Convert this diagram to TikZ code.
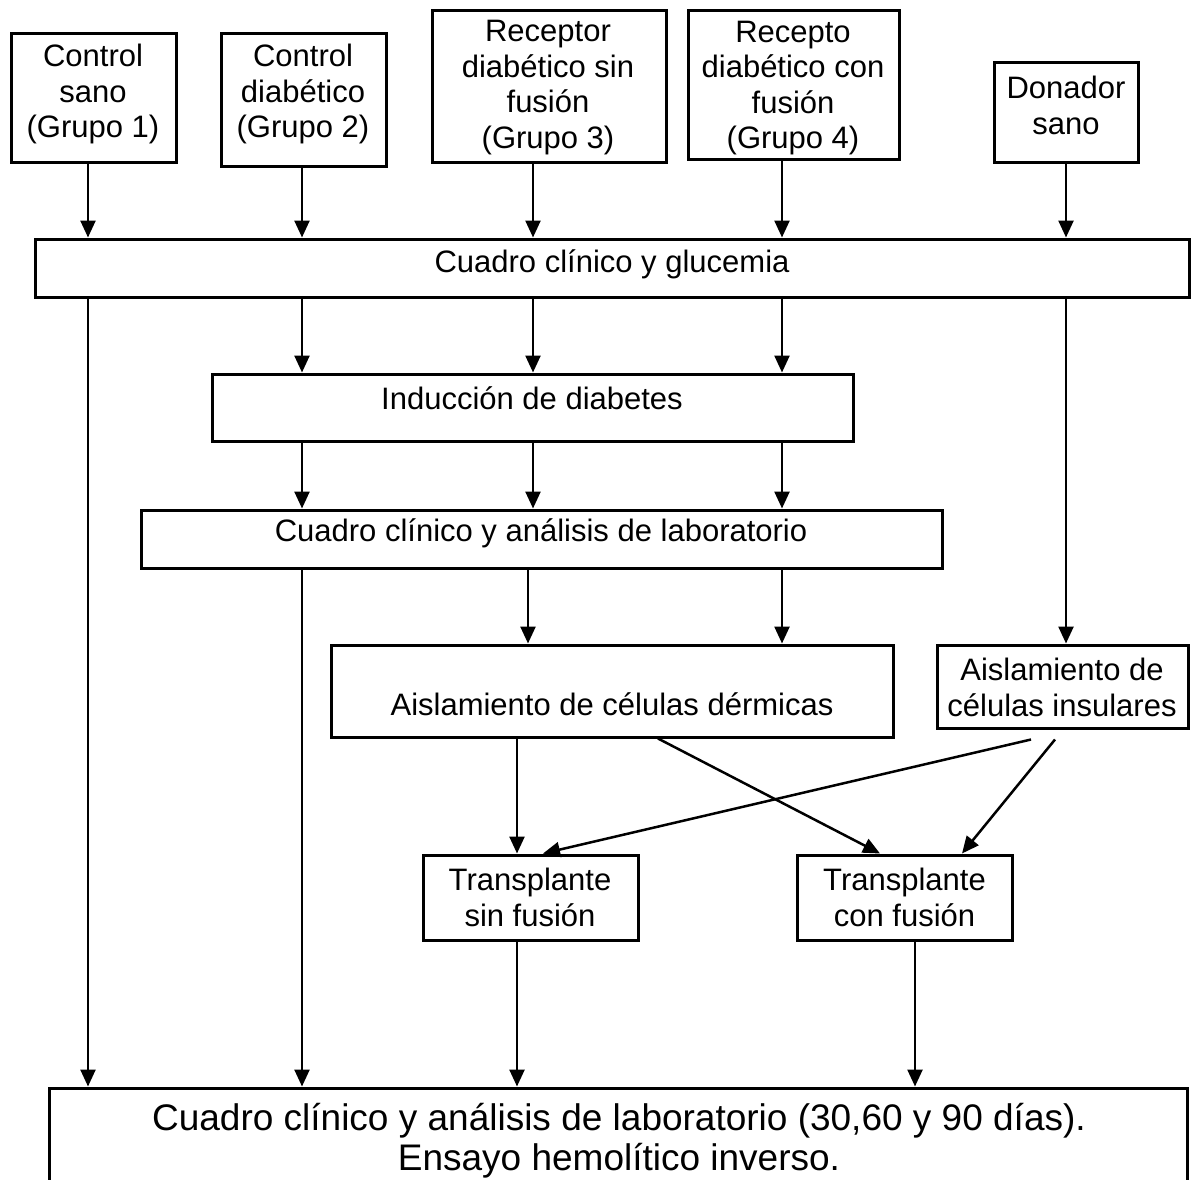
\documentclass[tikz,border=0pt]{standalone}
\usepackage{fontspec}
\setmainfont{Liberation Sans}
\usetikzlibrary{arrows.meta,calc}
\begin{document}
\begin{tikzpicture}[x=1pt,y=-1pt,
  box/.style={draw, line width=3pt, inner sep=0pt},
  lbl/.style={font=\fontsize{31}{35.5}\selectfont, align=center, inner sep=0pt},
  biglbl/.style={font=\fontsize{37}{40}\selectfont, align=center, inner sep=0pt},
  arr/.style={line width=2.5pt, -{Triangle[length=17pt,width=15pt]}}]
\useasboundingbox (0,0) rectangle (1191,1180);
\clip (0,0) rectangle (1191,1180);
\fill[white] (0,0) rectangle (1191,1180);

% boxes
\node[box, minimum width=165pt, minimum height=128pt] (g1) at (93.5,98) {};
\node[box, minimum width=165pt, minimum height=132pt] (g2) at (303.5,100) {};
\node[box, minimum width=234pt, minimum height=151pt] (g3) at (549,86.5) {};
\node[box, minimum width=211pt, minimum height=148pt] (g4) at (793.5,85) {};
\node[box, minimum width=144pt, minimum height=99pt] (don) at (1066,112.5) {};
\node[box, minimum width=1154pt, minimum height=58pt] (gluc) at (612,268) {};
\node[box, minimum width=641pt, minimum height=67pt] (ind) at (532.5,407.5) {};
\node[box, minimum width=801pt, minimum height=58pt] (ana) at (541.5,539) {};
\node[box, minimum width=562pt, minimum height=92pt] (derm) at (612,691) {};
\node[box, minimum width=251pt, minimum height=83pt] (ins) at (1062.5,686.5) {};
\node[box, minimum width=215pt, minimum height=85pt] (tsf) at (530.5,897.5) {};
\node[box, minimum width=215pt, minimum height=85pt] (tcf) at (904.5,897.5) {};
\node[box, minimum width=1138pt, minimum height=112pt] (fin) at (618,1144) {};

% texts
\node[lbl] (g1t) at (93,94) {Control\\sano\\(Grupo 1)};
\node[lbl] (g2t) at (303,94) {Control\\diabético\\(Grupo 2)};
\node[lbl] (g3t) at (548,87.5) {Receptor\\diabético sin\\fusión\\(Grupo 3)};
\node[lbl] (g4t) at (793,88) {Recepto\\diabético con\\fusión\\(Grupo 4)};
\node[lbl] (dont) at (1066,105.5) {Donador\\sano};
\node[lbl] (glucTt) at (612,264) {Cuadro clínico y glucemia};
\node[lbl] (indt) at (532,398) {Inducción de diabetes};
\node[lbl] (anat) at (541,533) {Cuadro clínico y análisis de laboratorio};
\node[lbl] (dermt) at (612,704) {Aislamiento de células dérmicas};
\node[lbl] (inst) at (1062,687.5) {Aislamiento de\\células insulares};
\node[lbl] (tsft) at (530,897.5) {Transplante\\sin fusión};
\node[lbl] (tcft) at (904.5,897.5) {Transplante\\con fusión};
\node[biglbl] (fint) at (619,1141) {Cuadro clínico y análisis de laboratorio (30,60 y 90 días).\\Ensayo hemolítico inverso.};

% column coordinates
\coordinate (x1) at (88,0);
\coordinate (x2) at (302,0);
\coordinate (x3) at (533,0);
\coordinate (x3b) at (528,0);
\coordinate (x4) at (782,0);
\coordinate (x5) at (1066,0);
\coordinate (x6) at (517,0);
\coordinate (x7) at (915,0);
\coordinate (dA) at (658,0);
\coordinate (tA) at (880,0);
\coordinate (iA) at (1031,0);
\coordinate (tB) at (543,0);
\coordinate (iB) at (1055,0);
\coordinate (tC) at (962,0);

% arrows from groups
\draw[arr] (g1.south -| x1) -- (gluc.north -| x1);
\draw[arr] (g2.south -| x2) -- (gluc.north -| x2);
\draw[arr] (g3.south -| x3) -- (gluc.north -| x3);
\draw[arr] (g4.south -| x4) -- (gluc.north -| x4);
\draw[arr] (don.south -| x5) -- (gluc.north -| x5);

% from glucemia
\draw[arr] (gluc.south -| x1) -- (fin.north -| x1);
\draw[arr] (gluc.south -| x2) -- (ind.north -| x2);
\draw[arr] (gluc.south -| x3) -- (ind.north -| x3);
\draw[arr] (gluc.south -| x4) -- (ind.north -| x4);
\draw[arr] (gluc.south -| x5) -- (ins.north -| x5);

% from induccion
\draw[arr] (ind.south -| x2) -- (ana.north -| x2);
\draw[arr] (ind.south -| x3) -- (ana.north -| x3);
\draw[arr] (ind.south -| x4) -- (ana.north -| x4);

% from analisis
\draw[arr] (ana.south -| x2) -- (fin.north -| x2);
\draw[arr] (ana.south -| x3b) -- (derm.north -| x3b);
\draw[arr] (ana.south -| x4) -- (derm.north -| x4);

% from dermicas
\draw[arr] (derm.south -| x6) -- (tsf.north -| x6);
\draw[arr] (derm.south -| dA) -- (tcf.north -| tA);

% from insulares
\draw[arr] ($(ins.south -| iA)+(0,10)$) -- (tsf.north -| tB);
\draw[arr] ($(ins.south -| iB)+(0,10)$) -- (tcf.north -| tC);

% from transplants
\draw[arr] (tsf.south -| x6) -- (fin.north -| x6);
\draw[arr] (tcf.south -| x7) -- (fin.north -| x7);
\end{tikzpicture}
\end{document}
